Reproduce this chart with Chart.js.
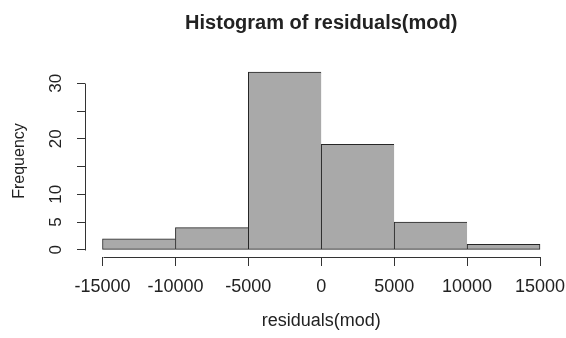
<!DOCTYPE html>
<html><head><meta charset="utf-8">
<script src="https://cdn.jsdelivr.net/npm/chart.js@4"></script>
<style>html,body{margin:0;padding:0;background:#fff;overflow:hidden}canvas{display:block}</style>
</head><body>
<canvas id="c" width="566" height="338" style="width:566px;height:338px"></canvas>
<script>
const binEdges = [-15000, -10000, -5000, 0, 5000, 10000, 15000];
const counts = [2, 4, 32, 19, 5, 1];
const xTickValues = [-15000, -10000, -5000, 0, 5000, 10000, 15000];
const xTickLabels = ['-15000', '-10000', '-5000', '0', '5000', '10000', '15000'];
const yTickValues = [0, 5, 10, 15, 20, 25, 30];
const yTickLabels = ['0', '5', '10', '', '20', '', '30'];
const titleText = 'Histogram of residuals(mod)';
const xTitle = 'residuals(mod)';
const yTitle = 'Frequency';

const FONT = "'Liberation Sans', Arial, sans-serif";
const TXT = '#222';
const AX = '#333';

const points = counts.map((c, i) => ({ x: (binEdges[i] + binEdges[i + 1]) / 2, y: c }));
const xSpan = binEdges[binEdges.length - 1] - binEdges[0];
const yMax = Math.max(...counts);

const rAxes = {
  id: 'rAxes',
  afterDraw(chart) {
    const ctx = chart.ctx, x = chart.scales.x, y = chart.scales.y, a = chart.chartArea;
    ctx.save();
    ctx.strokeStyle = AX;
    ctx.lineWidth = 1;
    ctx.beginPath();
    const by = Math.round(a.bottom) + 0.5;
    ctx.moveTo(Math.round(x.getPixelForValue(xTickValues[0])) + 0.5, by);
    ctx.lineTo(Math.round(x.getPixelForValue(xTickValues[xTickValues.length - 1])) + 0.5, by);
    const lx = Math.round(a.left) + 0.5;
    ctx.moveTo(lx, Math.round(y.getPixelForValue(yTickValues[0])) + 0.5);
    ctx.lineTo(lx, Math.round(y.getPixelForValue(yTickValues[yTickValues.length - 1])) + 0.5);
    ctx.stroke();
    ctx.fillStyle = TXT;
    ctx.font = "bold 20px " + FONT;
    ctx.textAlign = 'center';
    ctx.textBaseline = 'middle';
    ctx.fillText(titleText, (a.left + a.right) / 2, 23);
    ctx.restore();
  }
};

new Chart(document.getElementById('c'), {
  type: 'bar',
  data: {
    datasets: [{
      data: points,
      backgroundColor: '#a9a9a9',
      borderColor: '#262626',
      borderWidth: (c) => ({ top: 1, left: 1, bottom: 1, right: c.dataIndex === counts.length - 1 ? 1 : 0 }),
      borderSkipped: false,
      barPercentage: 1,
      categoryPercentage: 1
    }]
  },
  options: {
    responsive: false,
    animation: false,
    devicePixelRatio: 1,
    layout: { padding: { top: 65, right: 8.5, left: 0, bottom: 0 } },
    plugins: { legend: { display: false }, title: { display: false }, tooltip: { enabled: false } },
    scales: {
      x: {
        type: 'linear',
        offset: false,
        min: binEdges[0] - 0.04 * xSpan,
        max: binEdges[binEdges.length - 1] + 0.04 * xSpan,
        afterBuildTicks: (s) => { s.ticks = xTickValues.map(v => ({ value: v })); },
        afterFit: (s) => { s.height = 81; s.paddingLeft = 0; s.paddingRight = 0; },
        grid: { drawOnChartArea: false, drawTicks: true, tickLength: 9, color: AX, lineWidth: 1, offset: false },
        border: { display: false },
        ticks: {
          autoSkip: false, maxRotation: 0, minRotation: 0, padding: 10, color: TXT,
          font: { family: FONT, size: 18 },
          callback: (v, i) => xTickLabels[i]
        },
        title: { display: true, text: xTitle, color: TXT, font: { family: FONT, size: 18 }, padding: { top: 0, bottom: 6 } }
      },
      y: {
        type: 'linear',
        min: -0.04 * yMax,
        max: yMax * 1.04,
        afterBuildTicks: (s) => { s.ticks = yTickValues.map(v => ({ value: v })); },
        afterFit: (s) => { s.width = 85; s.paddingTop = 0; s.paddingBottom = 0; },
        grid: { drawOnChartArea: false, drawTicks: true, tickLength: 8, color: AX, lineWidth: 1 },
        border: { display: false },
        ticks: {
          autoSkip: false, minRotation: 90, maxRotation: 90, crossAlign: 'center', padding: 11, color: TXT,
          font: { family: FONT, size: 17 },
          callback: (v, i) => yTickLabels[i]
        },
        title: { display: true, text: yTitle, color: TXT, font: { family: FONT, size: 16 }, padding: { top: 10, bottom: 0 } }
      }
    }
  },
  plugins: [rAxes]
});
</script>
</body></html>
